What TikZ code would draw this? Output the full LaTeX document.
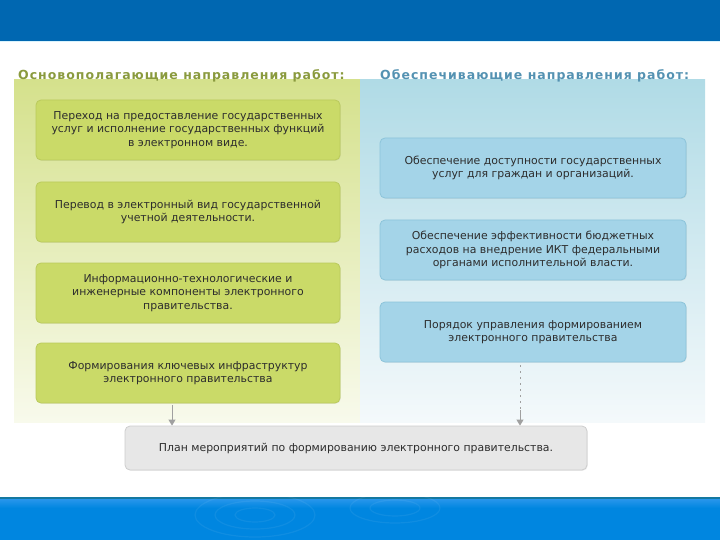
\documentclass[tikz,border=0pt]{standalone}
\usepackage{fontspec}
\setmainfont{DejaVu Sans}
\usetikzlibrary{shadows,arrows.meta}
\definecolor{topblue}{RGB}{0,103,177}
\definecolor{botblue}{RGB}{0,134,224}
\definecolor{botline}{RGB}{20,120,160}
\definecolor{botband}{RGB}{40,150,235}
\definecolor{lpanel}{RGB}{213,225,140}
\definecolor{lpanelb}{RGB}{248,250,236}
\definecolor{rpanel}{RGB}{176,219,230}
\definecolor{rpanelb}{RGB}{244,249,251}
\definecolor{lboxfill}{RGB}{202,218,104}
\definecolor{lboxdraw}{RGB}{186,202,92}
\definecolor{rboxfill}{RGB}{164,212,232}
\definecolor{rboxdraw}{RGB}{140,196,218}
\definecolor{gboxfill}{RGB}{231,231,231}
\definecolor{gboxdraw}{RGB}{205,205,205}
\definecolor{ltitle}{RGB}{138,154,62}
\definecolor{rtitle}{RGB}{84,146,178}
\definecolor{txt}{RGB}{45,45,45}
\definecolor{arr}{RGB}{160,160,160}
\tikzset{
  boxbase/.style={rounded corners=5pt, line width=0.8pt, align=center, text=txt,
    font=\fontsize{10.9}{13.5}\selectfont, inner sep=0pt,
    drop shadow={opacity=0.12, shadow xshift=0.8pt, shadow yshift=-0.8pt}},
  lbox/.style={boxbase, fill=lboxfill, draw=lboxdraw, minimum width=304pt, minimum height=60pt},
  rbox/.style={boxbase, fill=rboxfill, draw=rboxdraw, minimum width=306pt, minimum height=60pt},
  gbox/.style={boxbase, fill=gboxfill, draw=gboxdraw, minimum width=462pt, minimum height=44pt},
  title/.style={anchor=west, inner sep=0pt, font=\bfseries\fontsize{12.5}{14}\selectfont\addfontfeature{LetterSpace=8}},
  conn/.style={draw=arr, line width=0.9pt, -{Triangle[length=6pt,width=7pt]}},
  dotline/.style={draw=arr, line width=0.9pt, dash pattern=on 2pt off 4pt},
}
\begin{document}
\begin{tikzpicture}[x=1pt,y=-1pt]
\useasboundingbox (0,0) rectangle (720,540);
% top bar
\fill[topblue] (0,0) rectangle (720,41);
\fill[white!85!cyan] (0,41) rectangle (720,42.5);
% panels
\shade[top color=lpanel, bottom color=lpanelb] (14,80) rectangle (360,422);
\shade[top color=rpanel, bottom color=rpanelb] (360,80) rectangle (705,422);
% titles
\node[title, text=ltitle] (lt) at (18,76) {Основополагающие направления работ:};
\node[title, text=rtitle] (rt) at (380,76) {Обеспечивающие направления работ:};
% left boxes
\node[lbox] (l1) at (188,130) {Переход на предоставление государственных\\услуг и исполнение государственных функций\\в электронном виде.};
\node[lbox] (l2) at (188,212) {Перевод в электронный вид государственной\\учетной деятельности.};
\node[lbox] (l3) at (188,293) {Информационно-технологические и\\инженерные компоненты электронного\\правительства.};
\node[lbox] (l4) at (188,373) {Формирования ключевых инфраструктур\\электронного правительства};
% right boxes
\node[rbox] (r1) at (533,168) {Обеспечение доступности государственных\\услуг для граждан и организаций.};
\node[rbox] (r2) at (533,250) {Обеспечение эффективности бюджетных\\расходов на внедрение ИКТ федеральными\\органами исполнительной власти.};
\node[rbox] (r3) at (533,332) {Порядок управления формированием\\электронного правительства};
% bottom box
\node[gbox] (plan) at (356,448) {План мероприятий по формированию электронного правительства.};
% connectors
\coordinate (la) at (172,0);
\coordinate (ra) at (520,0);
\coordinate (rm) at (520,410);
\draw[conn] (l4.south -| la) ++(0,2) -- (plan.north -| la);
\draw[dotline] (r3.south -| ra) ++(0,3) -- (rm);
\draw[conn] (rm) -- (plan.north -| ra);
% bottom bar
\fill[botblue] (0,497) rectangle (720,540);
\fill[botline] (0,497) rectangle (720,499);
\shade[top color=botband, bottom color=botblue] (0,499) rectangle (720,508);
\begin{scope}[draw=white, opacity=0.06, line width=1.2pt]
\draw (255,515) ellipse (60 and 22);
\draw (255,515) ellipse (40 and 14);
\draw (255,515) ellipse (20 and 7);
\draw (395,508) ellipse (45 and 15);
\draw (395,508) ellipse (25 and 8);
\end{scope}
\end{tikzpicture}
\end{document}
